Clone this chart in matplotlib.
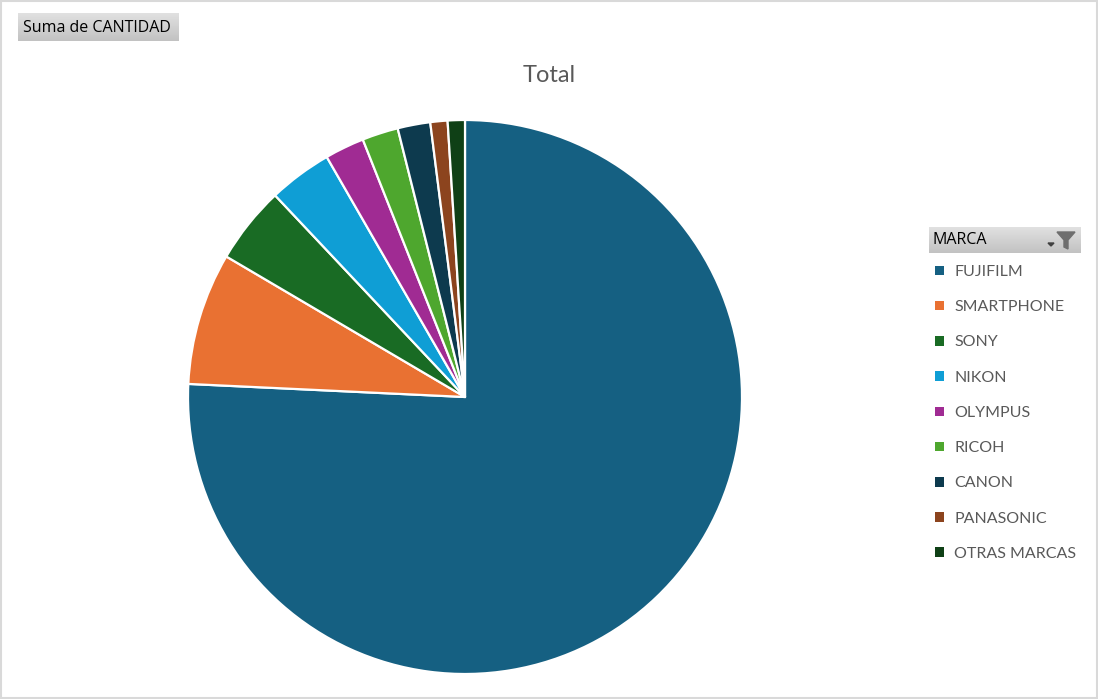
import numpy as np
import matplotlib.pyplot as plt
from matplotlib.patches import Rectangle, Polygon

# values (share of CANTIDAD, in tenths of a percent)
marcas = ["FUJIFILM", "SMARTPHONE", "SONY", "NIKON", "OLYMPUS",
          "RICOH", "CANON", "PANASONIC", "OTRAS MARCAS"]
cantidad = [756, 77, 45, 37, 23, 21, 19, 10, 10]
colores = ["#156082", "#E97132", "#196B24", "#0F9ED5", "#A02B93",
           "#4EA72E", "#0D3A4E", "#8C441E", "#0F4016"]

W, H = 1098, 699
plt.rcParams['font.family'] = ['Lato', 'DejaVu Sans']

fig = plt.figure(figsize=(W / 100, H / 100), dpi=100)

# decoration layer in pixel coordinates
deco = fig.add_axes([0, 0, 1, 1])
deco.axis("off")
deco.add_patch(Rectangle((1, 1), W - 2, H - 2, fill=False, ec="#D9D9D9", lw=1.5))

def gray_button(x0, y0, x1, y1):
    grad = np.linspace(0.88, 0.76, 50).reshape(-1, 1)
    deco.imshow(grad, cmap="gray", vmin=0, vmax=1, aspect="auto",
                extent=(x0, x1, y1, y0), zorder=1)

gray_button(18, 13, 179, 41)
deco.text(23, 28, "Suma de CANTIDAD", fontsize=11.5, color="black",
          va="center", ha="left", family=["Open Sans", "DejaVu Sans"])

gray_button(929, 227, 1081, 253)
deco.text(933, 240, "MARCA", fontsize=11.5, color="black", va="center",
          ha="left", family=["Open Sans", "DejaVu Sans"])
# filter icon
deco.add_patch(Polygon([(1057, 232), (1075, 232), (1068, 240), (1068, 249),
                        (1064, 247), (1064, 240)], closed=True,
                       color="#6E6E6E", zorder=3))
deco.add_patch(Polygon([(1048, 243), (1054, 243), (1051, 246)], closed=True,
                       color="#404040", zorder=3))

deco.text(549, 76, "Total", fontsize=17, color="#595959", ha="center", va="center")
deco.set_xlim(0, W)
deco.set_ylim(H, 0)

# pie
cx, cy, r = 465, 397, 277
ax = fig.add_axes([(cx - r) / W, (H - cy - r) / H, 2 * r / W, 2 * r / H])
wedges, _ = ax.pie(cantidad, colors=colores, startangle=90, counterclock=False,
                   radius=1, wedgeprops=dict(edgecolor="white", linewidth=1.6))
ax.set_xlim(-1, 1)
ax.set_ylim(-1, 1)
ax.set_aspect("equal")

leg = fig.legend(wedges, marcas, loc="upper left",
                 bbox_to_anchor=(935 / W, 1 - 265 / H),
                 frameon=False, fontsize=11.5, labelcolor="#595959",
                 handlelength=0.55, handleheight=0.55, handletextpad=0.65,
                 labelspacing=1.33, borderaxespad=0, borderpad=0)
for h in leg.legend_handles:
    h.set_edgecolor("none")

fig.savefig("out.png", dpi=100)
